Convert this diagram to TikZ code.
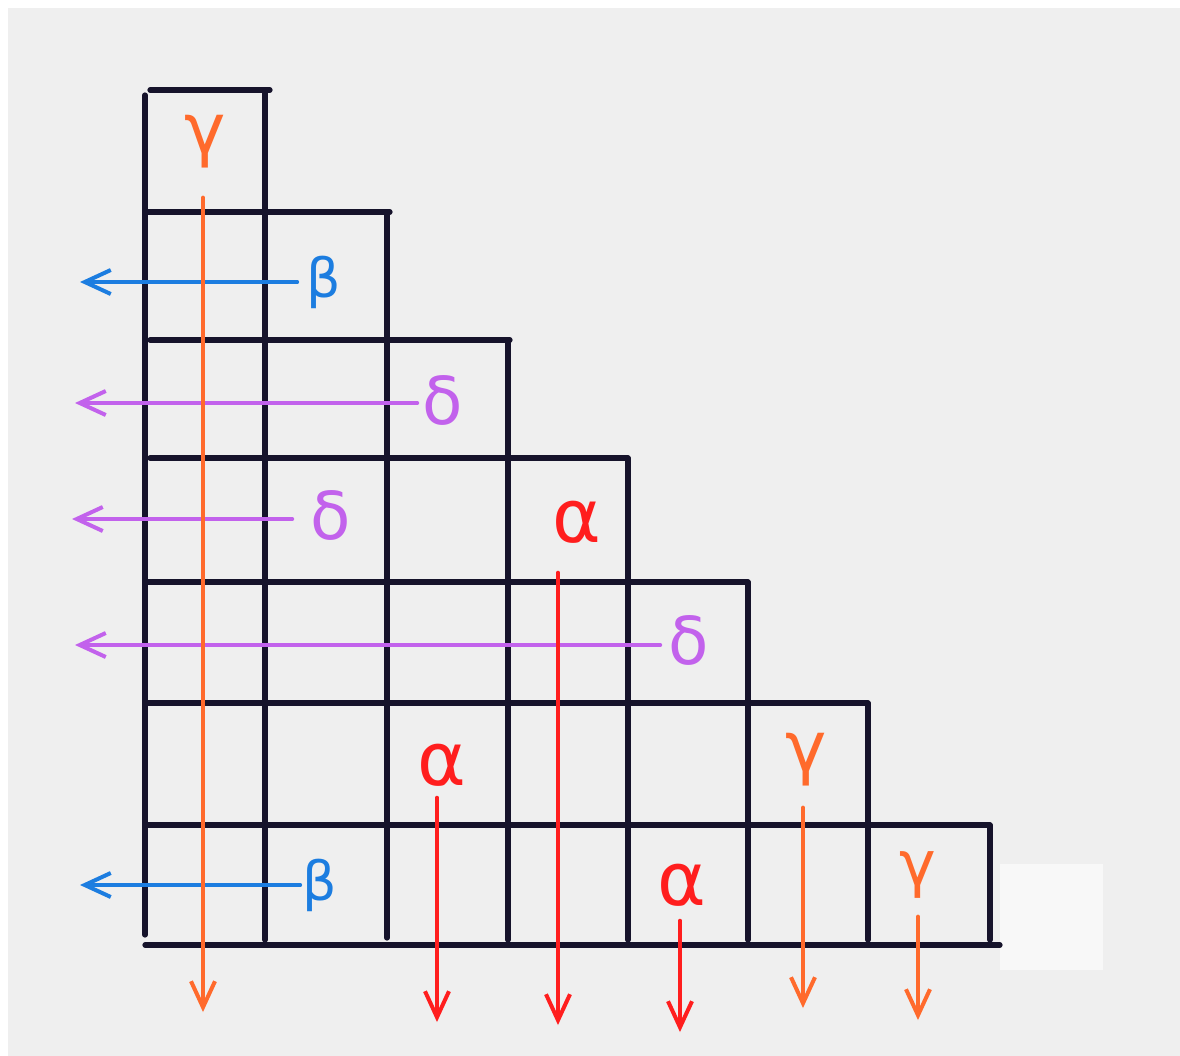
\documentclass[tikz,border=0pt]{standalone}
\usepackage{fontspec}
\newfontfamily\greekfont{DejaVu Sans}
\usetikzlibrary{arrows.meta}
\definecolor{paper}{HTML}{EFEFEF}
\definecolor{patch}{HTML}{F8F8F8}
\definecolor{ink}{HTML}{16132B}
\definecolor{cgamma}{HTML}{FF6A2C}
\definecolor{cbeta}{HTML}{1C7DE0}
\definecolor{cdelta}{HTML}{C262EC}
\definecolor{calpha}{HTML}{FF1E1E}
\begin{document}
\begin{tikzpicture}[x=0.5pt,y=-0.5pt,
  gridline/.style={ink,line width=2.6pt,line cap=round},
  letter/.style={inner sep=0pt},
  arr/.style={line width=1.8pt,line cap=round,-{Straight Barb[length=13pt,width=12pt,line width=2pt]}},
  lgamma/.style={letter,text=cgamma,font=\greekfont\fontsize{35}{35}\selectfont},
  lbeta/.style={letter,text=cbeta,font=\greekfont\fontsize{27}{27}\selectfont},
  ldelta/.style={letter,text=cdelta,font=\greekfont\fontsize{33}{33}\selectfont},
  lalpha/.style={letter,text=calpha,font=\greekfont\fontsize{37}{37}\selectfont}]
\useasboundingbox (0,0) rectangle (1180,1056);
\fill[white] (0,0) rectangle (1180,1056);
\fill[paper] (8,8) rectangle (1180,1056);
\fill[patch] (1000,864) rectangle (1103,970);
% horizontal lines
\draw[gridline] (150,90) -- (270,90);
\draw[gridline] (148,212) -- (390,212);
\draw[gridline] (150,340) -- (510,340);
\draw[gridline] (150,458) -- (628,458);
\draw[gridline] (148,582) -- (748,582);
\draw[gridline] (148,703) -- (868,703);
\draw[gridline] (145,825) -- (990,825);
\draw[gridline] (145,945) -- (1000,945);
% vertical lines
\draw[gridline] (145,95) -- (145,935);
\draw[gridline] (265,90) -- (265,940);
\draw[gridline] (387,212) -- (387,938);
\draw[gridline] (508,340) -- (508,940);
\draw[gridline] (628,458) -- (628,940);
\draw[gridline] (748,582) -- (748,940);
\draw[gridline] (868,703) -- (868,940);
\draw[gridline] (990,825) -- (990,940);
% letters
\node[lgamma] (g1) at (205,142) {γ};
\node[lbeta]  (b1) at (324,282) {β};
\node[ldelta] (d1) at (443,400) {δ};
\node[ldelta] (d2) at (331,515) {δ};
\node[lalpha] (a1) at (577,522) {α};
\node[ldelta] (d3) at (689,640) {δ};
\node[lalpha] (a2) at (442,765) {α};
\node[lgamma] (g2) at (806,760) {γ};
\node[lbeta]  (b2) at (320,885) {β};
\node[lalpha] (a3) at (682,885) {α};
\node[lgamma,font=\greekfont\fontsize{31}{31}\selectfont] (g3) at (918,875) {γ};
% free ends
\coordinate (eg1) at (203,1012);
\coordinate (eb1) at (80,281);
\coordinate (ed1) at (75,403);
\coordinate (ed2) at (72,522);
\coordinate (ea1) at (558,1025);
\coordinate (ed3) at (75,647);
\coordinate (ea2) at (437,1022);
\coordinate (eg2) at (803,1008);
\coordinate (eb2) at (80,883);
\coordinate (ea3) at (680,1032);
\coordinate (eg3) at (918,1020);
% start points next to the letters
\path ([xshift=-4.5pt]b1.west) coordinate (sb1);
\path ([shift={(-2.5pt,-1.5pt)}]d1.west) coordinate (sd1);
\path ([shift={(-9pt,-2pt)}]d2.west) coordinate (sd2);
\path ([shift={(-4pt,-2.5pt)}]d3.west) coordinate (sd3);
\path ([xshift=-1pt]b2.west) coordinate (sb2);
\path ([yshift=-14.5pt]g1.south) coordinate (sg1);
\path ([yshift=-14.5pt]a1.south) coordinate (sa1);
\path ([yshift=-5.5pt]a2.south) coordinate (sa2);
\path ([yshift=-10.5pt]g2.south) coordinate (sg2);
\path ([yshift=-7pt]a3.south) coordinate (sa3);
\path ([yshift=-9pt]g3.south) coordinate (sg3);
% arrows
\draw[arr,cbeta] (sb1) -- (eb1 |- sb1);
\draw[arr,cdelta] (sd1) -- (ed1 |- sd1);
\draw[arr,cdelta] (sd2) -- (ed2 |- sd2);
\draw[arr,cdelta] (sd3) -- (ed3 |- sd3);
\draw[arr,cbeta] (sb2) -- (eb2 |- sb2);
\draw[arr,cgamma,line width=2.2pt] (sg1 -| eg1) -- (eg1);
\draw[arr,calpha] (sa1 -| ea1) -- (ea1);
\draw[arr,calpha] (sa2 -| ea2) -- (ea2);
\draw[arr,calpha] (sa3 -| ea3) -- (ea3);
\draw[arr,cgamma,line width=2.2pt] (sg2 -| eg2) -- (eg2);
\draw[arr,cgamma,line width=2.2pt] (sg3 -| eg3) -- (eg3);
\end{tikzpicture}
\end{document}
